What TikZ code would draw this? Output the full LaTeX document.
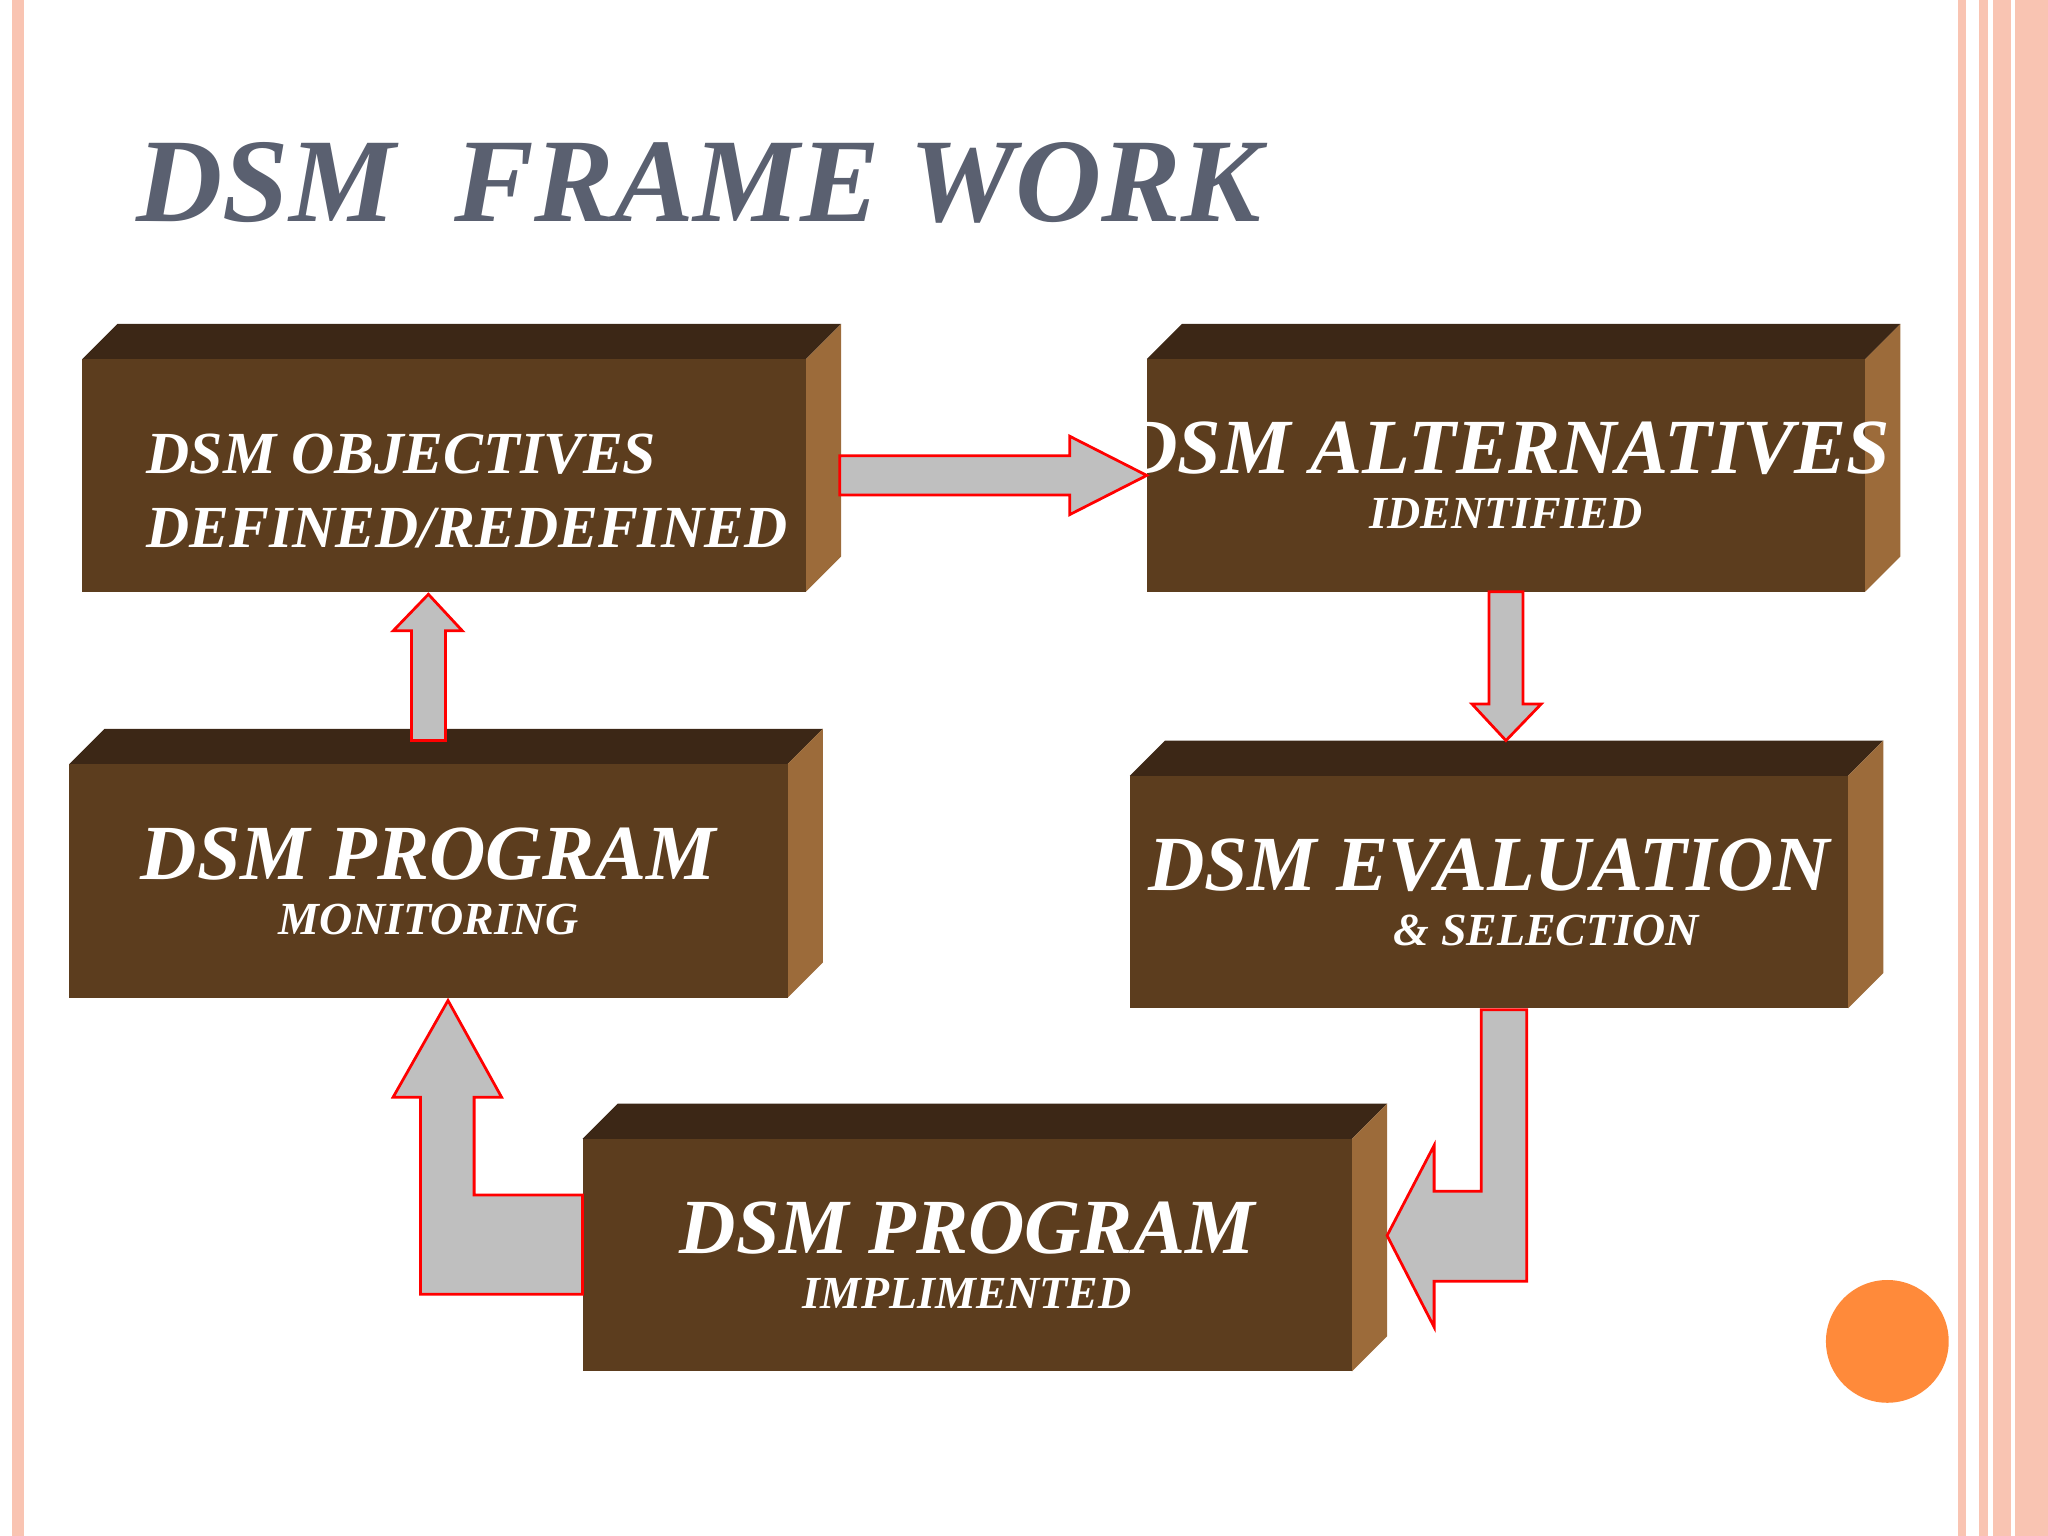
\documentclass[tikz,border=0pt]{standalone}
\usepackage{fontspec}
\setmainfont{Liberation Serif}
\definecolor{boxfront}{HTML}{5C3D1E}
\definecolor{boxtop}{HTML}{3C2716}
\definecolor{boxside}{HTML}{9C6B3A}
\definecolor{titlegrey}{HTML}{5A6070}
\definecolor{stripe}{HTML}{F9C4B2}
\definecolor{dot}{HTML}{FF8A3A}
\tikzset{
  boxtext/.style={text=white, font=\bfseries\itshape, align=center},
  blockarrow/.style={fill=black!25, draw=red, line width=0.6pt}
}
% front face x1 y1 x2 y2, bevel depth 27
\newcommand{\dsmbox}[6]{%
  \fill[boxtop] (#2,#3) -- ++(27,-27) -- (#4+27,#3-27) -- (#4,#3) -- cycle;
  \fill[boxside] (#4,#3) -- (#4+27,#3-27) -- (#4+27,#5-27) -- (#4,#5) -- cycle;
  \fill[boxfront] (#2,#3) rectangle (#4,#5);
  \coordinate (#1) at ({(#2+#4)/2},{(#3+#5)/2});
  \node[boxtext] (#1 text) at ({(#2+#4)/2},{(#3+#5)/2}) {#6};}
\begin{document}
\begin{tikzpicture}[x=0.01cm, y=-0.01cm]
\useasboundingbox (0,0) rectangle (1568,1176);
% frame stripes
\fill[stripe] (9,0) rectangle (18,1176);
\fill[stripe] (1499,0) rectangle (1505,1176);
\fill[stripe] (1515,0) rectangle (1568,1176);
\fill[white] (1522,0) rectangle (1526,1176);
\fill[white] (1540,0) rectangle (1543,1176);
\node[anchor=west, text=titlegrey, font=\fontsize{26}{30}\selectfont\bfseries\itshape] (title) at (92,140) {DSM\ \ FRAME WORK};

\dsmbox{obj}{63}{275}{617}{453}{}
\node[boxtext, anchor=west, align=left, font=\fontsize{13}{16}\selectfont\bfseries\itshape] (obj label) at (100,376) {DSM OBJECTIVES\\DEFINED/REDEFINED};
\dsmbox{alt}{878}{275}{1428}{453}{\fontsize{17}{20}\selectfont DSM ALTERNATIVES\\IDENTIFIED}
\dsmbox{eval}{865}{594}{1415}{772}{\fontsize{17}{20}\selectfont DSM EVALUATION\\\qquad\ \ \& SELECTION}
\dsmbox{mon}{53}{585}{603}{764}{\fontsize{17}{20}\selectfont DSM PROGRAM\\MONITORING}
\dsmbox{impl}{446}{872}{1035}{1050}{\fontsize{17}{20}\selectfont DSM PROGRAM\\IMPLIMENTED}

% block arrows
\draw[blockarrow] (643,349) -- (819,349) -- (819,334) -- (878,364) -- (819,394) -- (819,379) -- (643,379) -- cycle;
\draw[blockarrow] (1140,453) -- (1166,453) -- (1166,539) -- (1180,539) -- (1153,567) -- (1127,539) -- (1140,539) -- cycle;
\draw[blockarrow] (315,567) -- (315,483) -- (301,483) -- (328,455) -- (354,483) -- (341,483) -- (341,567) -- cycle;
\draw[blockarrow] (1134,773) -- (1169,773) -- (1169,981) -- (1098,981) -- (1098,1016) -- (1062,946) -- (1098,877) -- (1098,912) -- (1134,912) -- cycle;
\draw[blockarrow] (446,915) -- (363,915) -- (363,840) -- (384,840) -- (343,766) -- (301,840) -- (322,840) -- (322,991) -- (446,991) -- cycle;

\fill[dot] (1445,1027) circle (47);
\end{tikzpicture}
\end{document}
